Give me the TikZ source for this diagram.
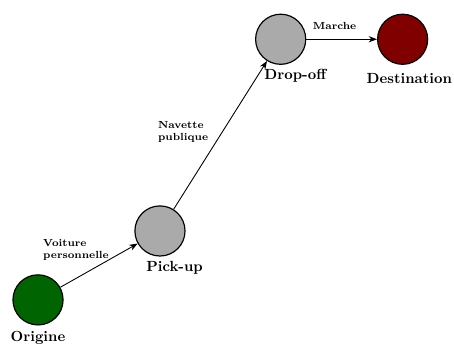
\documentclass[tikz,border=0pt]{standalone}
\usetikzlibrary{arrows.meta}
\definecolor{origcol}{RGB}{0,100,0}
\definecolor{destcol}{RGB}{128,0,0}
\definecolor{hubcol}{RGB}{170,170,170}
\begin{document}
\begin{tikzpicture}[
    stop/.style={circle, draw=black, thick, minimum size=1.2cm, inner sep=0pt},
    place/.style={font=\bfseries},
    mode/.style={font=\scriptsize\bfseries, align=left, anchor=west},
    leg/.style={-{Stealth[length=2mm]}, semithick}]
    \useasboundingbox (0,0) rectangle (10.87,8.3);

    % Stops of the trip
    \node[stop, fill=origcol] (orig) at (0.91,1.12) {};
    \node[stop, fill=hubcol] (pick) at (3.83,2.77) {};
    \node[stop, fill=hubcol] (drop) at (6.72,7.36) {};
    \node[stop, fill=destcol] (dest) at (9.64,7.36) {};

    % Names under the stops
    \node[place] (origlbl) at (0.91,0.22) {Origine};
    \node[place] (picklbl) at (4.18,1.89) {Pick-up};
    \node[place] (droplbl) at (7.07,6.48) {Drop-off};
    \node[place] (destlbl) at (9.80,6.43) {Destination};

    % Legs of the trip
    \draw[leg] (orig) -- (pick);
    \draw[leg] (pick) -- (drop);
    \draw[leg] (drop) -- (dest);

    % Modes
    \node[mode] (car) at (0.91,2.32) {Voiture\\personnelle};
    \node[mode] (bus) at (3.66,5.14) {Navette\\publique};
    \node[mode, anchor=center] (walk) at (8.01,7.67) {Marche};
\end{tikzpicture}
\end{document}
